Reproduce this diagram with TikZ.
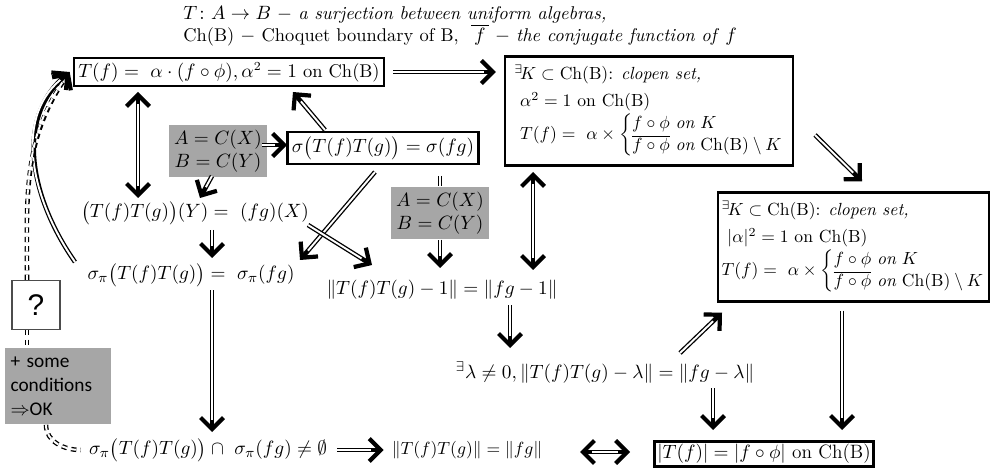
\documentclass[tikz,border=0pt]{standalone}
\usepackage{amsmath,amssymb}
\usepackage{fontspec}
\newfontfamily\calibrifont{Carlito}
\newfontfamily\arialfont{Liberation Sans}
\usetikzlibrary{arrows.meta,calc}
\definecolor{shade}{HTML}{A6A6A6}
\newcommand{\choice}{{\fontsize{10}{10.5}\selectfont$T(f) = \ \alpha\times\left\{\def\arraystretch{1.2}\begin{array}{@{}l@{}}f\circ\phi\ \textit{on}\ K\\ \overline{f\circ\phi}\ \textit{on}\ \mathrm{Ch(B)}\setminus K\end{array}\right.$}}
\tikzset{tip/.tip={Straight Barb[length=6.5pt,width=13pt,line width=2.4pt]},box/.style={draw,line width=1.4pt,inner sep=2.5pt},kbox/.style={box,align=left,minimum height=2.18cm,inner xsep=2pt,font=\fontsize{10}{15.5}\selectfont},gbox/.style={fill=shade,inner sep=3pt,align=center},dline/.style={line width=2.6pt,postaction={draw=white,line width=1.1pt}},imp/.style={line width=2.6pt,-tip,postaction={draw=white,line width=1.1pt,-,shorten >=7pt}},dimp/.style={line width=2.6pt,tip-tip,postaction={draw=white,line width=1.1pt,-,shorten >=7pt,shorten <=7pt}},ddash/.style={line width=2.6pt,dash pattern=on 3pt off 2.4pt,postaction={draw=white,line width=1.1pt}},ddashimp/.style={line width=2.6pt,dash pattern=on 3pt off 2.4pt,-tip,postaction={draw=white,line width=1.1pt,-,shorten >=7pt}}}

\begin{document}
\begin{tikzpicture}[x=0.02cm,y=-0.02cm,font=\fontsize{11}{13}\selectfont]
\useasboundingbox (0,0) rectangle (996,469);
\node[anchor=west,align=left,inner sep=0pt,font=\fontsize{10.5}{12.5}\selectfont] (note) at (183,26) {$T\colon A\to B$ $-$ \textit{a surjection between uniform algebras,}\\Ch(B) $-$ Choquet boundary of B, \ $\overline{\,f\,}$ $-$ \textit{the conjugate function of} $f$};
\node[box,font=\fontsize{10.5}{12.5}\selectfont] (ea) at (229,72) {$T(f) = \ \alpha\cdot(f\circ\phi),\alpha^2 = 1$ on Ch(B)};
\node[kbox,minimum width=5.76cm] (eb) at (649,111) {${}^{\exists}\!K\subset\mathrm{Ch(B)}$: \textit{clopen set,}\\ \ $\alpha^2 = 1$ on Ch(B)\\ \ \choice};
\node[kbox,minimum width=5.4cm,anchor=east] (ec) at (990,247) {${}^{\exists}\!K\subset\mathrm{Ch(B)}$: \textit{clopen set,}\\ \ $|\alpha|^2 = 1$ on Ch(B)\\ \choice};
\node[box] (sig) at (383,148) {$\sigma\big(T(f)T(g)\big) = \sigma(fg)$};
\node[gbox,minimum width=1.66cm,minimum height=0.96cm] (ga) at (218,151) {$A = C(X)$\\$B = C(Y)$};
\node[gbox,minimum width=1.66cm,minimum height=0.96cm] (gb) at (440,213) {$A = C(X)$\\$B = C(Y)$};
\node (py) at (195,213) {$\big(T(f)T(g)\big)(Y) = \ (fg)(X)$};
\node (sp) at (191,275) {$\sigma_\pi\big(T(f)T(g)\big) = \ \sigma_\pi(fg)$};
\node (n1) at (442,290) {$\|T(f)T(g)-1\| = \|fg-1\|$};
\node (lam) at (605,373) {${}^{\exists}\lambda\neq0, \|T(f)T(g)-\lambda\| = \|fg-\lambda\|$};
\node (in) at (208,450) {$\sigma_\pi\big(T(f)T(g)\big)\cap\ \sigma_\pi(fg)\neq\emptyset$};
\node[font=\fontsize{10}{12}\selectfont] (np) at (467,450) {$\|T(f)T(g)\| = \|fg\|$};
\node[box,inner sep=1.5pt] (ab) at (764,454) {$|T(f)| = |f\circ\phi|$ on Ch(B)};
\node[draw=black!70,line width=0.6pt,minimum width=0.96cm,minimum height=0.98cm,font=\arialfont\fontsize{17}{17}\selectfont] (qm) at (36,305) {?};
\node[gbox,minimum width=2.06cm,minimum height=1.54cm,text width=1.9cm,align=left,font=\calibrifont\fontsize{11}{13.6}\selectfont] (cond) at (58,386) {+ some\\conditions\\$\Rightarrow$OK};
\draw[imp] ($(ea)+(164,0)$) -- ($(eb.west|-ea)+(-8,0)$);
\draw[dimp] ($(ea)+(-91,20)$) -- ($(py)+(-57,-15)$);
\draw[imp] ($(ga)+(44,-6)$) -- ($(sig)+(-96,-3)$);
\draw[imp] ($(ga)+(-6,25)$) -- ($(py)+(5,-15)$);
\draw[imp] ($(sig)+(-58,-18)$) -- ($(ea)+(64,20)$);
\draw[imp] ($(sig)+(-8,24)$) -- ($(sp)+(109,-15)$);
\draw[imp] ($(py)+(113,12)$) -- ($(n1)+(-70,-25)$);
\draw[dline] ($(sig)+(57,28)$) -- (gb.north);
\draw[imp] (gb.south) -- ($(n1)+(-2,-22)$);
\draw[imp] ($(py)+(17,17)$) -- ($(sp)+(21,-17)$);
\draw[imp] ($(sp)+(21,15)$) -- ($(in)+(4,-18)$);
\draw[dimp] ($(eb)+(-116,61)$) -- ($(n1)+(91,-20)$);
\draw[imp] ($(n1)+(68,15)$) -- ($(lam)+(-95,-25)$);
\draw[imp] ($(lam)+(75,-20)$) -- ($(ec.south east)+(-268,10)$);
\draw[imp] ($(lam)+(108,15)$) -- ($(ab)+(-51,-24)$);
\draw[imp] ($(ec.south-|ab)+(78,8)$) -- ($(ab)+(78,-24)$);
\draw[imp] ($(eb)+(166,24)$) -- ($(ec.north east)+(-128,-10)$);
\draw[imp] ($(in)+(129,0)$) -- ($(np.west)+(-2,0)$);
\draw[dimp] ($(np)+(113,2)$) -- ($(ab)+(-134,-2)$);
\draw[imp] ($(sp)+(-116,-13)$) to[out=125,in=220] ($(ea.west)+(-3,0)$);
\draw[ddashimp] ($(qm.north)+(-9,0)$) to[out=90,in=235] ($(ea.west)+(-3,0)$);
\draw[ddash] ($(qm.south)+(-9,0)$) -- ($(cond.north)+(-31,0)$);
\draw[ddash] ($(cond.south)+(-12,0)$) to[out=-90,in=180] ($(in.west)+(-2,0)$);
\end{tikzpicture}
\end{document}
